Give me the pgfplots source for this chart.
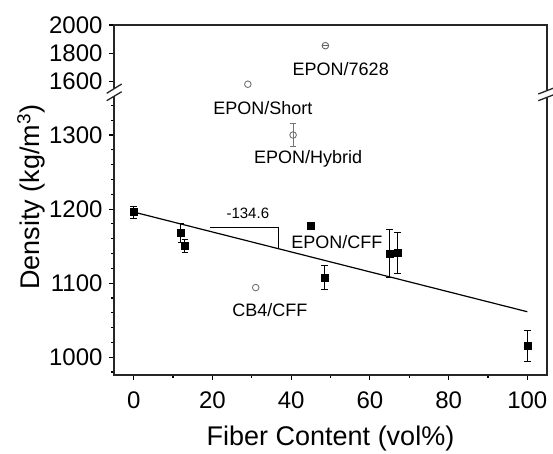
\documentclass[border=0pt]{standalone}
\usepackage{fontspec}
\setmainfont{Liberation Sans}
\usepackage{pgfplots}
\pgfplotsset{compat=1.18}
\usepackage{pgfplotstable}

\pgfplotstableread{
x y e
0 1196 8
12 1168 13
13 1150 8.5
45 1177 4
48.5 1108 16
65 1140 32
67 1141 28
100 1015 21
}\sq

\pgfplotsset{brk/.style={scale only axis, width=433pt, xmin=-5, xmax=105,
  axis line style={draw=none}, tick align=outside, xtick pos=bottom, ytick pos=left,
  major tick length=5pt, minor tick length=3pt, tick style={line width=1.1pt, black},
  /pgf/number format/assume math mode=true, /pgf/number format/1000 sep={},
  tick label style={font=\fontsize{24}{28}\selectfont},
  yticklabel style={xshift=-3pt}, xticklabel style={yshift=-8pt}, clip=false}}

\newcommand{\lbl}{\fontsize{18}{21}\selectfont}

\begin{document}
\begin{tikzpicture}
\path[use as bounding box] (0pt,0pt) rectangle (553pt,453pt);
% lower axis
\begin{axis}[brk, at={(114pt,78pt)}, anchor=south west, height=280pt,
  ymin=976, ymax=1354, ytick={1000,1100,1200,1300},
  minor ytick={980,1020,1040,1060,1080,1120,1140,1160,1180,1220,1240,1260,1280,1320,1340},
  xtick={0,20,...,100}, minor xtick={10,30,...,90},
  xlabel={Fiber Content (vol\%)}, xlabel style={font=\fontsize{27}{32}\selectfont, yshift=-11pt}]
\addplot[black, line width=1.2pt] coordinates {(0,1196) (100,1061.4)};
\addplot[black, line width=1.1pt] coordinates {(19.5,1175) (36.8,1175) (36.8,1146.5)};
\addplot[only marks, mark=square*, mark size=3.5pt, black,
  error bars/.cd, y dir=both, y explicit,
  error bar style={line width=0.9pt}, error mark options={rotate=90, line width=0.9pt, mark size=3.3pt}]
  table[x=x, y=y, y error=e] {\sq};
\addplot[only marks, mark=o, mark size=3.3pt, black!55, mark options={line width=0.9pt},
  error bars/.cd, y dir=both, y explicit,
  error bar style={line width=0.9pt}, error mark options={rotate=90, line width=0.9pt, mark size=3pt}]
  coordinates {(40.5,1300) +- (0,16)};
\addplot[only marks, mark=o, mark size=3.3pt, black!55, mark options={line width=0.9pt}]
  coordinates {(31,1094)};
\node[font=\lbl] at (axis cs:32.8,1337) {EPON/Short};
\node[font=\lbl] at (axis cs:44.3,1268) {EPON/Hybrid};
\node[font=\lbl] at (axis cs:51.6,1156) {EPON/CFF};
\node[font=\lbl] at (axis cs:34.6,1063) {CB4/CFF};
\node[font=\fontsize{15}{18}\selectfont] at (axis cs:29,1194) {-134.6};
\end{axis}
% upper axis
\begin{axis}[brk, at={(114pt,358pt)}, anchor=south west, height=70pt,
  ymin=1506, ymax=2000, ytick={1600,1800,2000}, xtick=\empty]
\addplot[only marks, mark=o, mark size=3.3pt, black!55, mark options={line width=0.9pt}]
  coordinates {(29,1582)};
\addplot[only marks, mark=o, mark size=3.3pt, black!60, mark options={line width=0.9pt}]
  coordinates {(48.7,1854)};
\addplot[only marks, mark=-, mark size=3pt, black!60, mark options={line width=0.8pt}]
  coordinates {(48.7,1854)};
\node[font=\lbl] at (axis cs:52.6,1690) {EPON/7628};
\end{axis}
% frame with breaks
\begin{scope}[line width=1.3pt, black!85]
\draw (114pt,364.3pt) -- (114pt,428pt) -- (547pt,428pt) -- (547pt,362pt);
\draw (114pt,356.8pt) -- (114pt,78pt) -- (547pt,78pt) -- (547pt,355.4pt);
\draw (106.7pt,359.7pt) -- (121.7pt,369pt);
\draw (106.7pt,352.3pt) -- (121.7pt,361.3pt);
\draw (538.3pt,359pt) -- (553pt,364.7pt);
\draw (538.3pt,352.3pt) -- (553pt,358pt);
\end{scope}
\node[rotate=90, font=\fontsize{27}{32}\selectfont] at (31pt,256pt) {Density (kg/m\textsuperscript{3})};
\end{tikzpicture}
\end{document}
